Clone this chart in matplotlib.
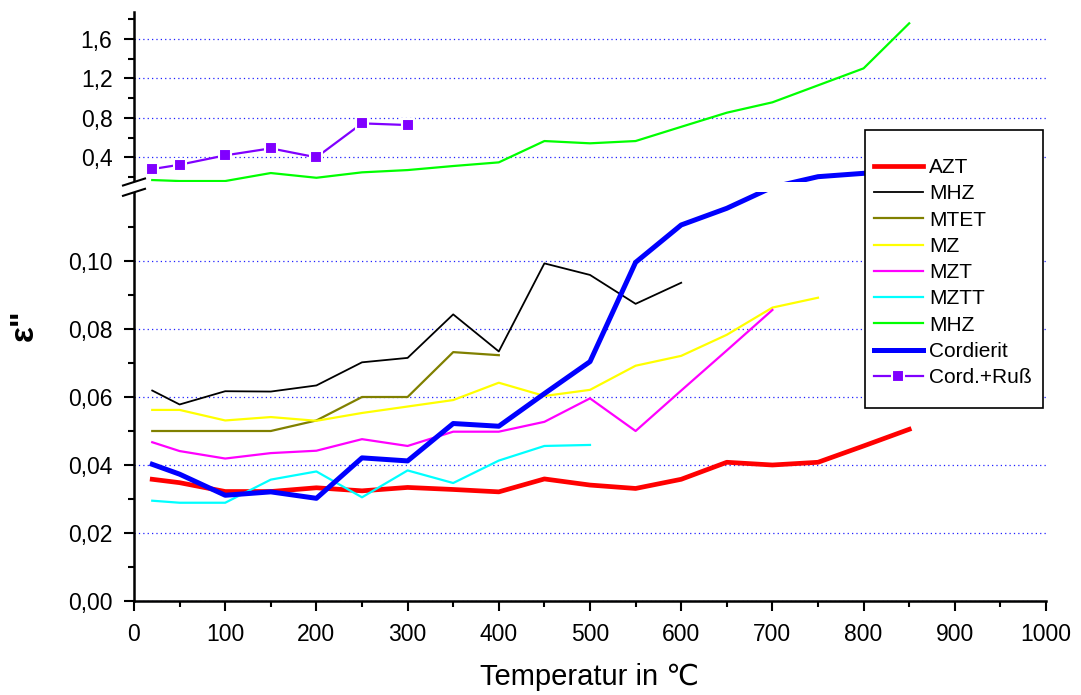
import numpy as np
import matplotlib
matplotlib.use('Agg')
import matplotlib.pyplot as plt
from matplotlib.patches import Rectangle
from matplotlib.lines import Line2D
from matplotlib.ticker import FixedLocator, FixedFormatter

plt.rcParams['font.family'] = ['Liberation Sans', 'DejaVu Sans']

# -- Data (eps'' vs temperature in C) --
t_azt   = [20, 50, 100, 150, 200, 250, 300, 350, 400, 450, 500, 550, 600, 650, 700, 750, 800, 850]
azt     = [0.0358, 0.0348, 0.0322, 0.0322, 0.0333, 0.0324, 0.0334, 0.0328, 0.0321, 0.0359,
           0.0341, 0.0331, 0.0358, 0.0408, 0.0400, 0.0408, 0.0456, 0.0505]

t_mhz   = [20, 50, 100, 150, 200, 250, 300, 350, 400, 450, 500, 550, 600]
mhz     = [0.0619, 0.0578, 0.0617, 0.0616, 0.0634, 0.0702, 0.0715, 0.0843, 0.0734, 0.0993,
           0.0959, 0.0874, 0.0936]

t_mtet  = [20, 50, 100, 150, 200, 250, 300, 350, 400]
mtet    = [0.0500, 0.0500, 0.0500, 0.0500, 0.0531, 0.0600, 0.0600, 0.0732, 0.0723]

t_mz    = [20, 50, 100, 150, 200, 250, 300, 350, 400, 450, 500, 550, 600, 650, 700, 750]
mz      = [0.0562, 0.0562, 0.0531, 0.0541, 0.0530, 0.0553, 0.0572, 0.0591, 0.0642, 0.0603,
           0.0621, 0.0692, 0.0721, 0.0783, 0.0863, 0.0892]

t_mzt   = [20, 50, 100, 150, 200, 250, 300, 350, 400, 450, 500, 550, 600, 650, 700]
mzt     = [0.0467, 0.0441, 0.0419, 0.0435, 0.0442, 0.0476, 0.0456, 0.0498, 0.0498, 0.0527,
           0.0596, 0.0500, 0.0619, 0.0737, 0.0856]

t_mztt  = [20, 50, 100, 150, 200, 250, 300, 350, 400, 450, 500]
mztt    = [0.0295, 0.0289, 0.0289, 0.0357, 0.0381, 0.0305, 0.0384, 0.0347, 0.0413, 0.0456, 0.0459]

t_mhz2  = [20, 50, 100, 150, 200, 250, 300, 350, 400, 450, 500, 550, 600, 650, 700, 750, 800, 850]
mhz2    = [0.170, 0.160, 0.160, 0.241, 0.193, 0.248, 0.271, 0.312, 0.349, 0.565,
           0.542, 0.565, 0.709, 0.852, 0.957, 1.129, 1.301, 1.757]

t_cord  = [20, 50, 100, 150, 200, 250, 300, 350, 400, 450, 500, 550, 600, 650, 700, 750, 800]
cord    = [0.0402, 0.0373, 0.0311, 0.0321, 0.0302, 0.0421, 0.0412, 0.0522, 0.0514, 0.0610,
           0.0704, 0.0996, 0.1106, 0.1155, 0.1350, 0.2040, 0.2380]

t_russ  = [20, 50, 100, 150, 200, 250, 300]
russ    = [0.281, 0.325, 0.420, 0.491, 0.400, 0.744, 0.727]

y_major = [0.0, 0.02, 0.04, 0.06, 0.08, 0.10, 0.4, 0.8, 1.2, 1.6]
y_major_labels = ['0,00', '0,02', '0,04', '0,06', '0,08', '0,10', '0,4', '0,8', '1,2', '1,6']
y_minor = [0.01, 0.03, 0.05, 0.07, 0.09, 0.11, 0.2, 0.6, 1.0, 1.4, 1.8]

# -- Broken y axis as one piecewise-linear scale --
# lower part (0 .. GAP_LO) is stretched, upper part (GAP_HI .. top) compressed,
# the band in between is blanked out later
GAP_LO, GAP_HI = 0.1202, 0.150
LOW_SLOPE, UP_SLOPE = 3400.0, 98.75
sv = [-1.0, 0.0, GAP_LO, GAP_HI, 3.0]
st = [-LOW_SLOPE, 0.0, GAP_LO * LOW_SLOPE, GAP_LO * LOW_SLOPE + 10.3,
      GAP_LO * LOW_SLOPE + 10.3 + (3.0 - GAP_HI) * UP_SLOPE]


def fwd(v):
    return np.interp(v, sv, st)


def inv(t):
    return np.interp(t, st, sv)


y_top = inv(589.0)

W, H = 1081, 695
fig = plt.figure(figsize=(W / 100, H / 100), dpi=100)
ax = fig.add_axes([134 / W, 94 / H, 912 / W, 589 / H])
ax.set_yscale('function', functions=(fwd, inv))

ax.plot(t_azt, azt, color='#ff0000', lw=3.4, label='AZT')
ax.plot(t_mhz, mhz, color='black', lw=1.3, label='MHZ')
ax.plot(t_mtet, mtet, color='#808000', lw=1.6, label='MTET')
ax.plot(t_mz, mz, color='#ffff00', lw=1.6, label='MZ')
ax.plot(t_mzt, mzt, color='#ff00ff', lw=1.6, label='MZT')
ax.plot(t_mztt, mztt, color='#00ffff', lw=1.6, label='MZTT')
ax.plot(t_mhz2, mhz2, color='#00ff00', lw=1.6, label='MHZ')
ax.plot(t_cord, cord, color='#0000ff', lw=3.6, label='Cordierit')
ax.plot(t_russ, russ, color='#8000ff', lw=1.6, marker='s', ms=9.2,
        mfc='#8000ff', mec='white', mew=1.5, label='Cord.+Ruß')

ax.set_xlim(0, 1000)
ax.set_ylim(0, y_top)
ax.set_xticks(np.arange(0, 1001, 100))
ax.set_xticks(np.arange(50, 1000, 100), minor=True)
ax.yaxis.set_major_locator(FixedLocator(y_major))
ax.yaxis.set_major_formatter(FixedFormatter(y_major_labels))
ax.yaxis.set_minor_locator(FixedLocator(y_minor))

for s in ('top', 'right'):
    ax.spines[s].set_visible(False)
for s in ('left', 'bottom'):
    ax.spines[s].set_linewidth(1.8)
ax.tick_params(which='major', direction='out', length=7.5, width=1.5, labelsize=16.5, pad=8)
ax.tick_params(which='minor', direction='out', length=4.5, width=1.5)

ax.set_axisbelow(True)
ax.yaxis.grid(True, which='major', color='#2020ff', linestyle=(0, (1, 2.5)), linewidth=0.9)

# blank the break band (also cuts the left spine)
ax.add_patch(Rectangle((-0.03, GAP_LO), 1.06, GAP_HI - GAP_LO,
                       transform=ax.get_yaxis_transform(), facecolor='white',
                       edgecolor='none', zorder=2.6, clip_on=False))

# break marks on the left spine
to_fig = fig.transFigure.inverted()
x_sp = ax.transAxes.transform((0, 0))[0]
for v in (GAP_LO, GAP_HI):
    yc = ax.transData.transform((0, v))[1]
    pts = to_fig.transform([(x_sp - 11, yc - 3.5), (x_sp + 11, yc + 3.5)])
    fig.add_artist(Line2D(pts[:, 0], pts[:, 1], transform=fig.transFigure,
                          color='black', lw=1.5, zorder=3))

# legend with an Origin-like box
ax.add_patch(Rectangle((865 / W, 1 - 408 / H), 178 / W, 278 / H, transform=fig.transFigure,
                       facecolor='white', edgecolor='black', lw=1.2, zorder=4.5, clip_on=False))
leg = ax.legend(loc='upper left', bbox_to_anchor=(874 / W, 1 - 158 / H),
                bbox_transform=fig.transFigure, frameon=False, borderpad=0,
                borderaxespad=0, handlelength=2.35, handletextpad=0.3,
                labelspacing=0.35, fontsize=15)
leg.set_zorder(5)

fig.text(590 / W, 1 - 685 / H, 'Temperatur in ℃', ha='center', va='baseline', fontsize=21)
fig.text(24 / W, 1 - 325 / H, 'ε"', rotation=90, ha='center', va='center',
         fontsize=24, fontweight='bold')

fig.savefig('out.png', dpi=100)
